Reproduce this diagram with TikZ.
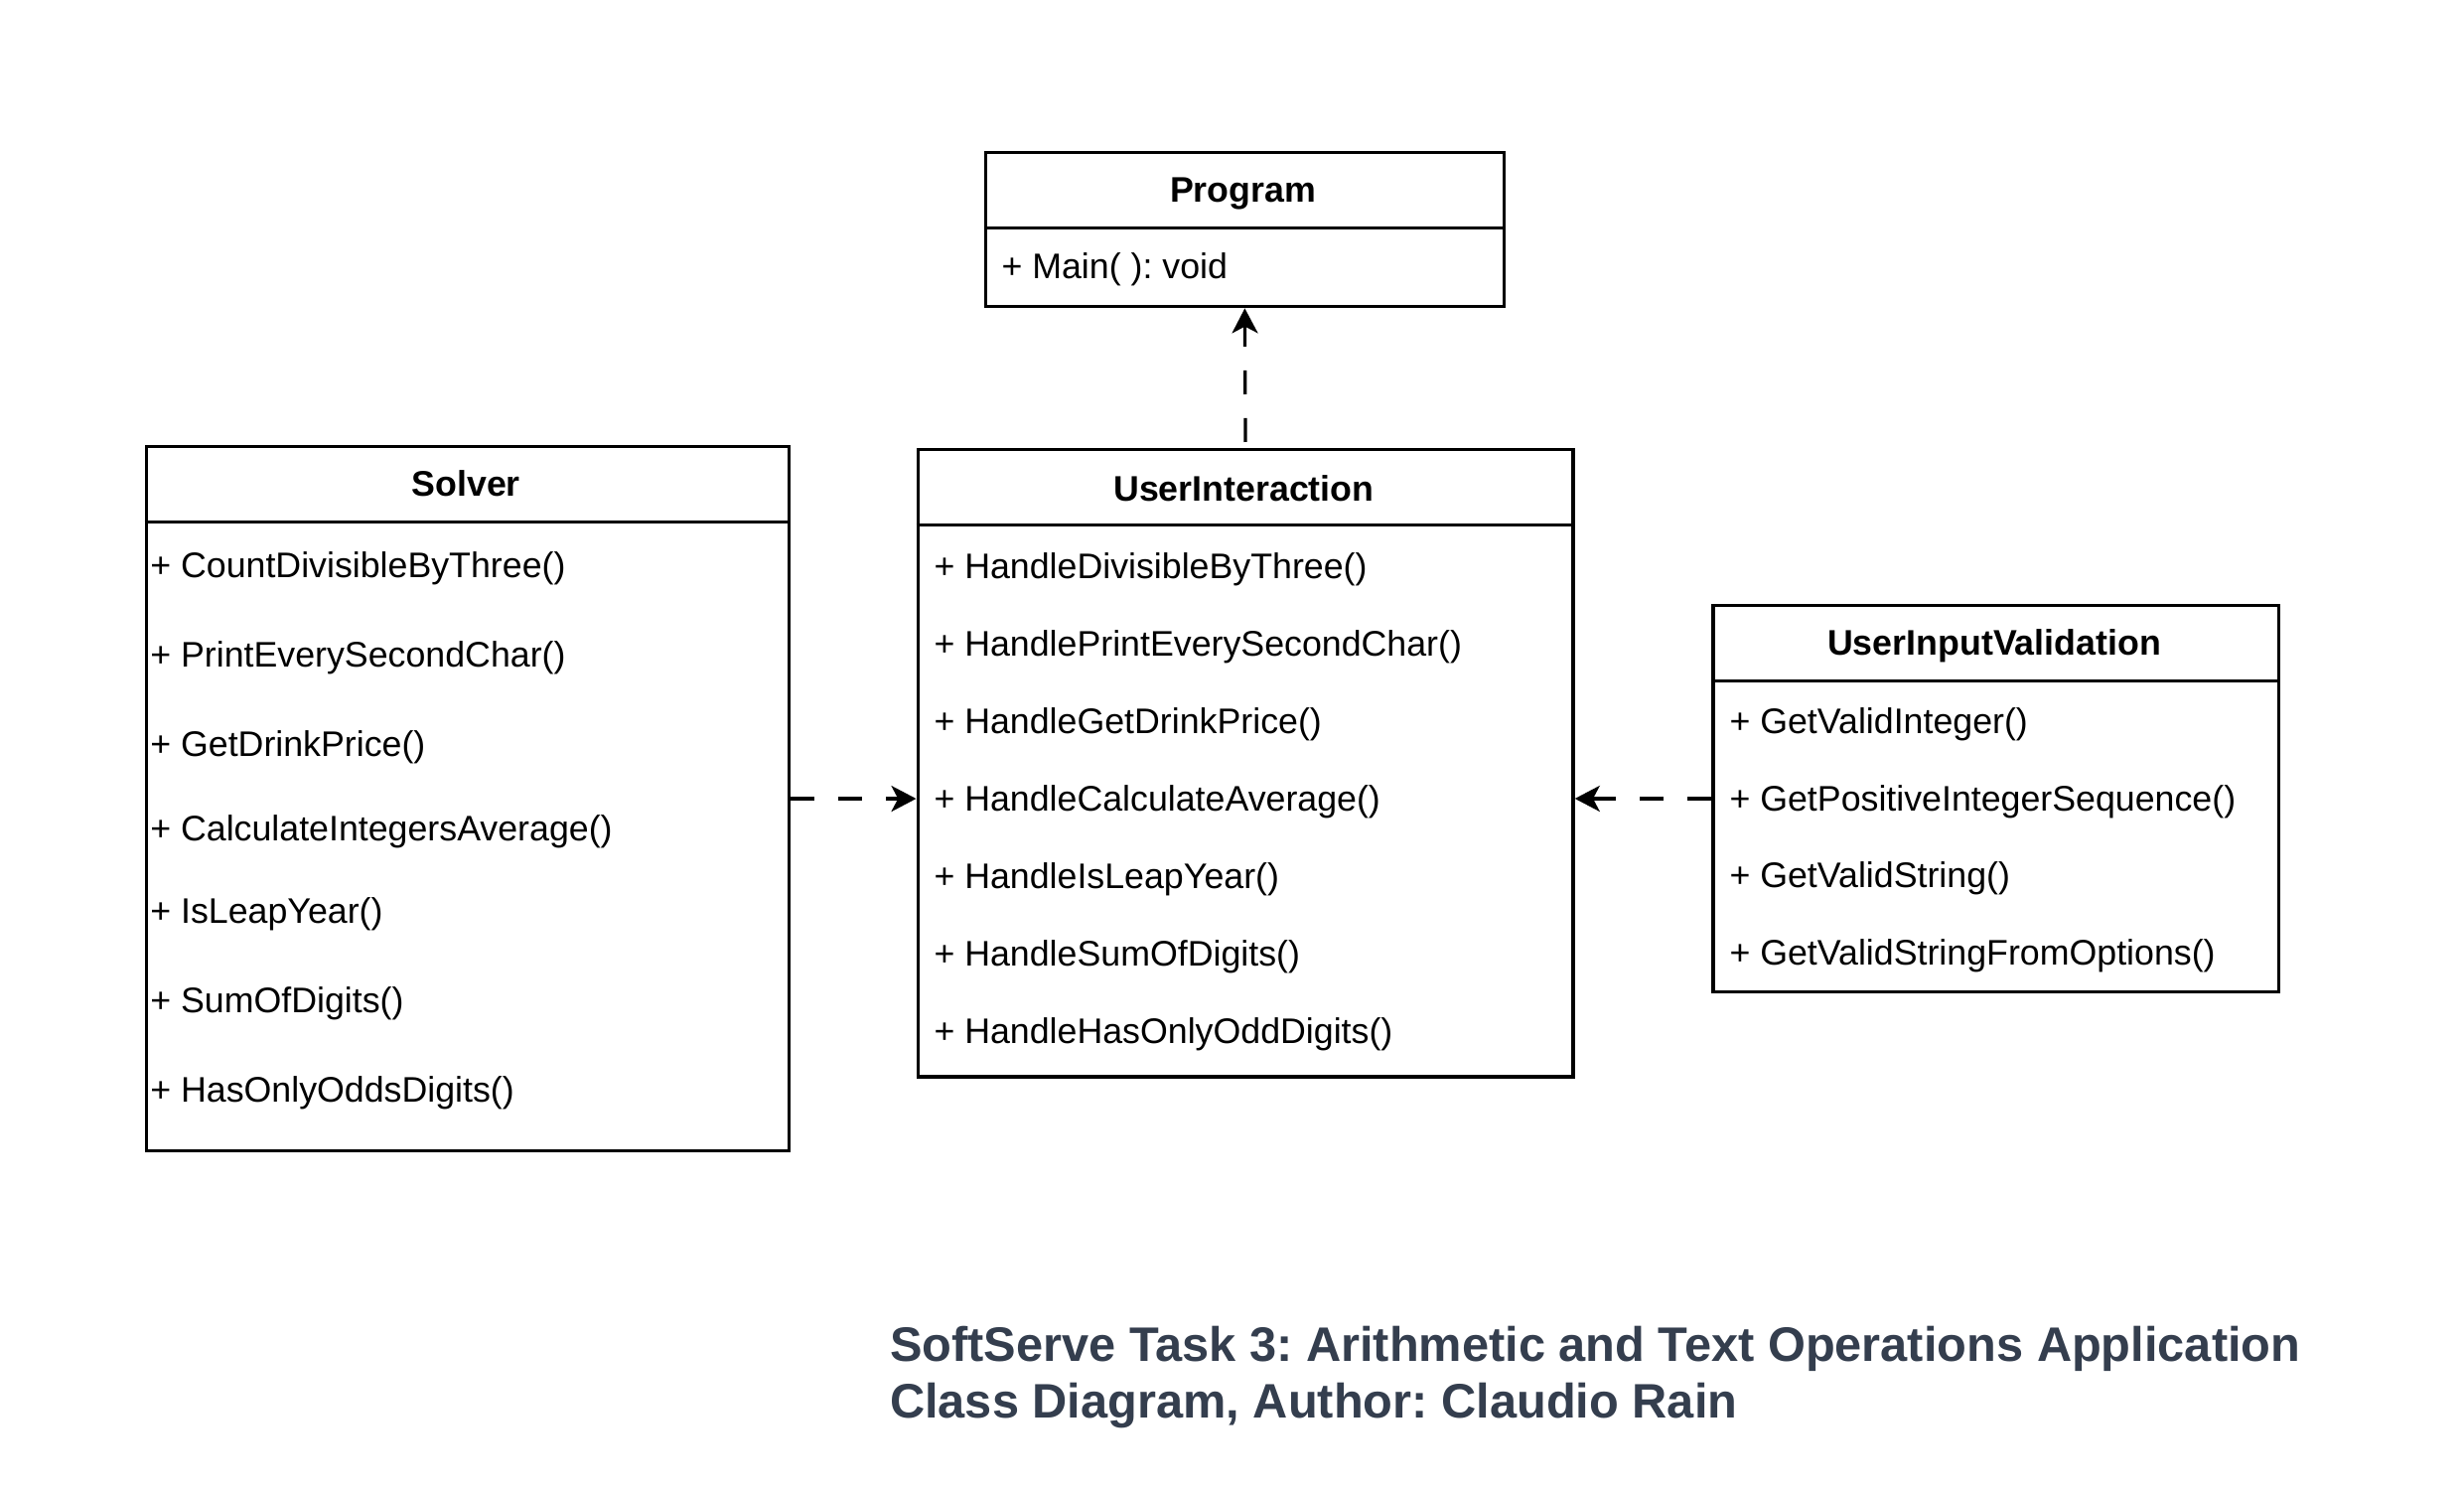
\documentclass[tikz,border=0pt]{standalone}
\usepackage{fontspec}
\setmainfont{Liberation Sans}
\usetikzlibrary{arrows.meta}
\definecolor{titlecol}{RGB}{52,62,78}
\frenchspacing
\begin{document}
\begin{tikzpicture}[x=0.4pt,y=-0.4pt,
  classbox/.style={draw, line width=1.4pt, inner sep=0pt, anchor=north west},
  mtext/.style={font=\fontsize{14.3pt}{17pt}\selectfont, inner sep=0pt, anchor=base west},
  htext/.style={font=\fontsize{14.3pt}{17pt}\selectfont\bfseries, inner sep=0pt, anchor=base},
  ttext/.style={font=\fontsize{19.5pt}{23pt}\selectfont\bfseries, text=titlecol, inner sep=0pt, anchor=base west},
  divider/.style={line width=1.4pt},
  dep/.style={line width=1.3pt, dash pattern=on 9.6pt off 9.6pt,
    -{Stealth[length=10pt,width=10.4pt,inset=2.7pt]}}]
\path[use as bounding box] (0,0) rectangle (2481,1503);

% Program
\node[classbox, minimum width=208.9pt, minimum height=62pt] (prog) at (990.5,151.9) {};
\draw[divider] (prog.west |- 0,229.4) -- (prog.east |- 0,229.4);
\node[htext] (progh) at (1251.6,204) {Program};
\node[mtext] (prog1) at (1008,281) {+ Main( ): void};

% Solver
\node[classbox, minimum width=258.8pt, minimum height=283.6pt] (solver) at (145.6,447.8) {};
\draw[divider] (solver.west |- 0,525.3) -- (solver.east |- 0,525.3);
\node[htext] (solverh) at (469.2,500) {Solver};
\node[mtext] (s1) at (150.8,582) {+ CountDivisibleByThree()};
\node[mtext] (s2) at (150.8,672) {+ PrintEverySecondChar()};
\node[mtext] (s3) at (150.8,762) {+ GetDrinkPrice()};
\node[mtext] (s4) at (150.8,846.5) {+ CalculateIntegersAverage()};
\node[mtext] (s5) at (150.8,930) {+ IsLeapYear()};
\node[mtext] (s6) at (150.8,1020) {+ SumOfDigits()};
\node[mtext] (s7) at (150.8,1110) {+ HasOnlyOddsDigits()};

% UserInteraction
\node[classbox, minimum width=263.9pt, minimum height=252.5pt] (ui) at (922.5,451) {};
\draw[divider] (ui.west |- 0,528.5) -- (ui.east |- 0,528.5);
\node[htext] (uih) at (1252.4,505) {UserInteraction};
\node[mtext] (u1) at (940,583) {+ HandleDivisibleByThree()};
\node[mtext] (u2) at (940,661) {+ HandlePrintEverySecondChar()};
\node[mtext] (u3) at (940,739) {+ HandleGetDrinkPrice()};
\node[mtext] (u4) at (940,817) {+ HandleCalculateAverage()};
\node[mtext] (u5) at (940,895) {+ HandleIsLeapYear()};
\node[mtext] (u6) at (940,973) {+ HandleSumOfDigits()};
\node[mtext] (u7) at (940,1051) {+ HandleHasOnlyOddDigits()};

% UserInputValidation
\node[classbox, minimum width=227.9pt, minimum height=155.7pt] (uiv) at (1723,607.6) {};
\draw[divider] (uiv.west |- 0,685.4) -- (uiv.east |- 0,685.4);
\node[htext] (uivh) at (2008,660) {UserInputValidation};
\node[mtext] (v1) at (1741,739) {+ GetValidInteger()};
\node[mtext] (v2) at (1741,817) {+ GetPositiveIntegerSequence()};
\node[mtext] (v3) at (1741,894) {+ GetValidString()};
\node[mtext] (v4) at (1741,972) {+ GetValidStringFromOptions()};

% connectors
\draw[dep] (solver.east) -- (solver.east -| ui.west);
\draw[dep] (uiv.west) -- (uiv.west -| ui.east);
\draw[dep, dash phase=16.8pt] (ui.north) -- (prog.south);

% title
\node[ttext] (t1) at (895.6,1370) {SoftServe Task 3: Arithmetic and Text Operations Application};
\node[ttext] (t2) at (895.6,1427) {Class Diagram, Author: Claudio Rain};
\end{tikzpicture}
\end{document}
